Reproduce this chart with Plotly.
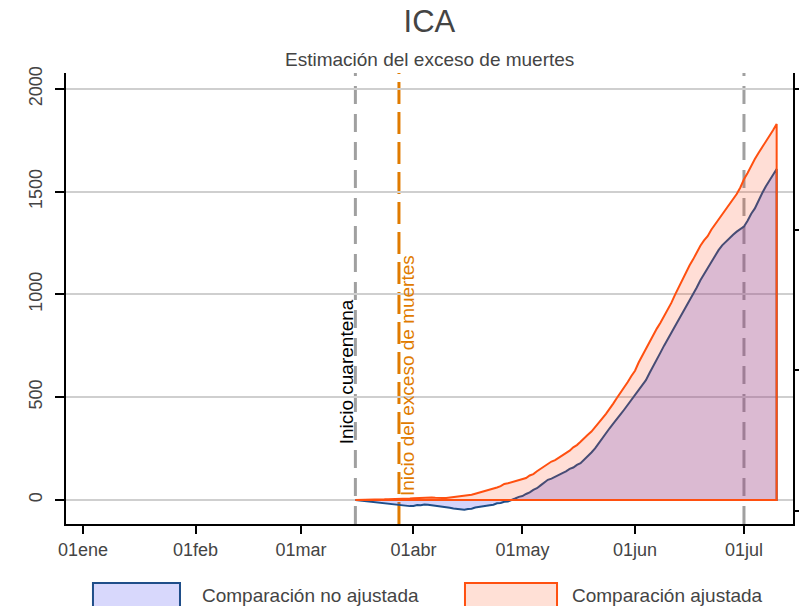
import datetime as dt
import plotly.graph_objects as go

# Daily series, 16 Mar - 10 Jul 2020
start = dt.date(2020, 3, 16)

no_ajustada = [
    # Mar 16-31
    0, -2, -4, -5, -8, -10, -11, -14, -15, -18, -21, -22, -25, -28, -27, -30,
    # Apr
    -29, -25, -26, -22, -23, -25, -27, -29, -33, -34, -38, -42, -43, -46, -48,
    -44, -43, -37, -35, -31, -31, -26, -23, -16, -15, -9, -7, 2, 7, 15,
    # May
    19, 29, 37, 49, 57, 71, 83, 98, 104, 114, 120, 131, 139, 151, 158, 171,
    179, 196, 211, 231, 251, 277, 301, 329, 349, 371, 391, 416, 439, 464, 486,
    # Jun
    513, 536, 561, 583, 618, 649, 686, 717, 751, 782, 816, 847, 881, 909, 941,
    971, 1004, 1034, 1069, 1099, 1131, 1159, 1191, 1216, 1239, 1257, 1277,
    1291, 1306, 1317,
    # Jul 1-10
    1331, 1359, 1393, 1419, 1459, 1493, 1526, 1556, 1586, 1611,
]

ajustada = [
    # Mar 16-31
    0, 0, 1, 1, 2, 2, 3, 3, 3, 4, 4, 4, 5, 6, 6, 7,
    # Apr
    8, 9, 11, 12, 13, 12, 11, 12, 10, 10, 12, 13, 14, 17, 20, 23, 25, 30, 35,
    41, 46, 49, 53, 61, 67, 78, 81, 86, 92, 96,
    # May
    101, 107, 119, 126, 140, 151, 166, 177, 187, 194, 206, 215, 229, 240, 256,
    267, 283, 298, 317, 333, 353, 372, 397, 419, 447, 469, 496, 520, 549, 574,
    603,
    # Jun
    629, 669, 702, 739, 771, 806, 834, 862, 892, 928, 959, 998, 1034, 1072,
    1104, 1141, 1171, 1206, 1237, 1263, 1284, 1315, 1339, 1366, 1387, 1411,
    1439, 1463, 1489, 1521,
    # Jul 1-10
    1561, 1591, 1629, 1659, 1689, 1716, 1739, 1771, 1799, 1830,
]

fechas = [start + dt.timedelta(days=i) for i in range(len(ajustada))]

tick_fechas = ["2020-01-01", "2020-02-01", "2020-03-01", "2020-04-01",
               "2020-05-01", "2020-06-01", "2020-07-01"]
tick_textos = ["01ene", "01feb", "01mar", "01abr", "01may", "01jun", "01jul"]
y_ticks = [0, 500, 1000, 1500, 2000]

inicio_cuarentena = "2020-03-16"
inicio_exceso = "2020-03-28"
ref_julio = "2020-07-01"

NAVY = "#1f4e89"
ORANGE = "#ff5010"
DARK_ORANGE = "#e07b00"
TXT = "#444444"
FONT = "Liberation Sans, Arial, sans-serif"


def cerrar(xs, ys):
    """Close an area polygon down to the zero baseline."""
    return list(xs) + [xs[-1], xs[0]], list(ys) + [0, 0]


fig = go.Figure()

x1, y1 = cerrar(fechas, no_ajustada)
fig.add_trace(go.Scatter(
    x=x1, y=y1, mode="lines", fill="toself",
    fillcolor="rgba(60,60,235,0.22)",
    line=dict(color=NAVY, width=2),
    name="Comparación no ajustada", hoverinfo="skip",
))

x2, y2 = cerrar(fechas, ajustada)
fig.add_trace(go.Scatter(
    x=x2, y=y2, mode="lines", fill="toself",
    fillcolor="rgba(255,72,28,0.18)",
    line=dict(color=ORANGE, width=2),
    name="Comparación ajustada", hoverinfo="skip",
))

# empty trace so the right-hand axis gets drawn
fig.add_trace(go.Scatter(x=[], y=[], yaxis="y2", showlegend=False))

shapes = []
for fecha, color, dash in [(inicio_cuarentena, "#a0a0a0", "18px,10px"),
                           (ref_julio, "#a0a0a0", "18px,10px"),
                           (inicio_exceso, DARK_ORANGE, "22px,8px")]:
    shapes.append(dict(type="line", xref="x", yref="paper", x0=fecha, x1=fecha,
                       y0=0, y1=1, layer="below",
                       line=dict(color=color, width=3, dash=dash)))

# legend keys
for x0, x1k, fill, border in [(0.0371, 0.1568, "#d8d8fc", NAVY),
                              (0.5488, 0.6754, "#ffe0d6", ORANGE)]:
    shapes.append(dict(type="rect", xref="paper", yref="paper",
                       x0=x0, x1=x1k, y0=-0.1863, y1=-0.1308,
                       fillcolor=fill, line=dict(color=border, width=2)))

annotations = [
    dict(x=inicio_cuarentena, y=623, xref="x", yref="y", text="Inicio cuarentena",
         textangle=-90, showarrow=False, xanchor="center", yanchor="middle",
         xshift=-8, font=dict(size=19, color="black", family=FONT)),
    dict(x=inicio_exceso, y=608, xref="x", yref="y",
         text="Inicio del exceso de muertes",
         textangle=-90, showarrow=False, xanchor="center", yanchor="middle",
         xshift=8, font=dict(size=19, color=DARK_ORANGE, family=FONT)),
    dict(x=0.1843, y=-0.158, xref="paper", yref="paper",
         text="Comparación no ajustada", showarrow=False,
         xanchor="left", yanchor="middle", font=dict(size=19, color=TXT, family=FONT)),
    dict(x=0.6933, y=-0.158, xref="paper", yref="paper",
         text="Comparación ajustada", showarrow=False,
         xanchor="left", yanchor="middle", font=dict(size=19, color=TXT, family=FONT)),
    dict(x=0.5, y=1.0, xref="paper", yref="paper", yshift=14,
         text="Estimación del exceso de muertes", showarrow=False,
         xanchor="center", yanchor="middle", font=dict(size=19, color=TXT, family=FONT)),
]

fig.update_layout(
    width=799, height=606,
    margin=dict(l=66, r=6, t=73, b=82, autoexpand=False),
    paper_bgcolor="white", plot_bgcolor="white",
    showlegend=False,
    font=dict(family=FONT, color=TXT),
    title=dict(text="ICA", x=0.5375, xanchor="center", y=0.965, yanchor="middle",
               font=dict(size=31, color=TXT, family=FONT)),
    xaxis=dict(
        type="date", automargin=False,
        range=["2019-12-27 07:40", "2020-07-14 12:00"],
        tickvals=tick_fechas, ticktext=tick_textos,
        showgrid=False, zeroline=False,
        showline=True, linecolor="black", linewidth=2,
        ticks="outside", ticklen=8, tickwidth=2, tickcolor="black",
        tickfont=dict(size=18, color=TXT),
    ),
    yaxis=dict(
        range=[-117, 2078], automargin=False,
        tickvals=y_ticks,
        tickangle=-90,
        showgrid=True, gridcolor="#cfcfcf", gridwidth=2,
        zeroline=False,
        showline=True, linecolor="black", linewidth=2,
        ticks="outside", ticklen=9, tickwidth=2, tickcolor="black",
        ticklabelstandoff=6,
        tickfont=dict(size=18, color=TXT),
    ),
    yaxis2=dict(
        overlaying="y", side="right", automargin=False,
        range=[-0.0924, 3.1137],
        tickvals=[0, 1, 2, 3], showticklabels=False,
        showgrid=False, zeroline=False,
        showline=True, linecolor="black", linewidth=2,
        ticks="outside", ticklen=8, tickwidth=2, tickcolor="black",
    ),
    shapes=shapes,
    annotations=annotations,
)

fig.write_html("out.html")
